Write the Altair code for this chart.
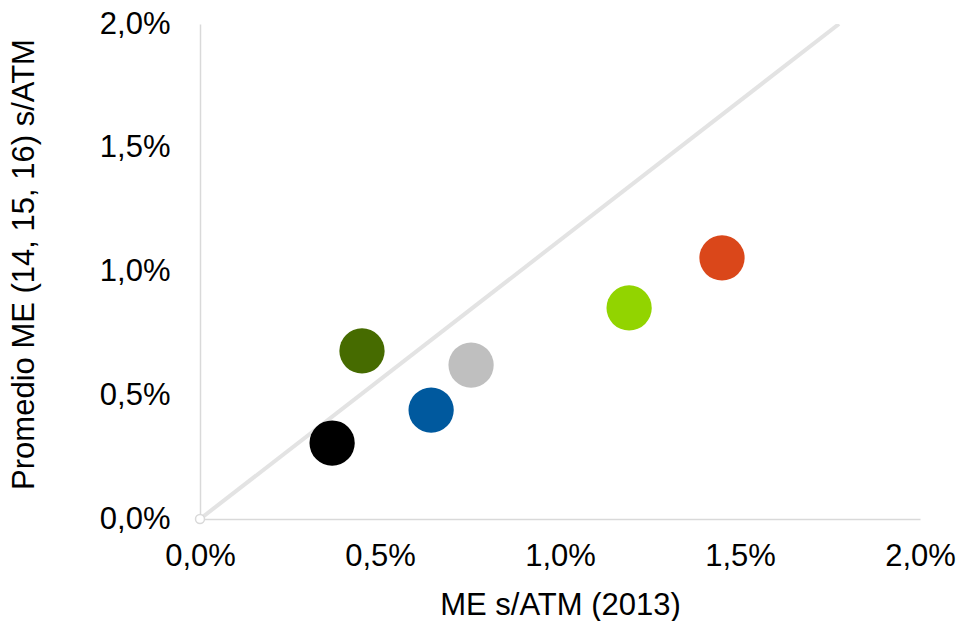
import altair as alt
import pandas as pd

# data (values in %)
me_2013 = [0.367, 0.45, 0.642, 0.753, 1.192, 1.45]
me_avg = [0.307, 0.679, 0.44, 0.622, 0.853, 1.055]
colors = ["#000000", "#466B00", "#00599E", "#BFBFBF", "#92D400", "#DA471A"]
ids = ["A", "B", "C", "D", "E", "F"]

line_x = [0.0, 1.775]
line_y = [0.0, 2.0]

pts = pd.DataFrame({"x": me_2013, "y": me_avg, "id": ids, "c": colors})
ln = pd.DataFrame({"x": line_x, "y": line_y})
origin = pd.DataFrame({"x": [0.0], "y": [0.0]})

lab = "replace(format(datum.value, '.1f'), '.', ',') + '%'"
font = "Liberation Sans"
tc = "#000000"

xs = alt.Scale(domain=[0, 2], nice=False)
ys = alt.Scale(domain=[0, 2], nice=False)

xaxis = alt.Axis(values=[0, 0.5, 1, 1.5, 2], labelExpr=lab, title="ME s/ATM (2013)",
                 grid=False, ticks=False, domainColor="#D9D9D9", domainWidth=1.5,
                 labelFontSize=31, labelFont=font, labelColor=tc, labelPadding=22,
                 labelFlush=False, labelOverlap=False,
                 titleFontSize=31, titleFont=font, titleFontWeight="normal", titleColor=tc,
                 titleBaseline="middle", titleY=86)
yaxis = alt.Axis(values=[0, 0.5, 1, 1.5, 2], labelExpr=lab, title="Promedio ME (14, 15, 16) s/ATM",
                 grid=False, ticks=False, domainColor="#D9D9D9", domainWidth=1.5,
                 labelFontSize=31, labelFont=font, labelColor=tc, labelPadding=30,
                 labelFlush=False, labelOverlap=False,
                 titleFontSize=31, titleFont=font, titleFontWeight="normal", titleColor=tc,
                 titleBaseline="middle", titleX=-176, titleY=240)

line = alt.Chart(ln).mark_line(color="#E3E3E3", strokeWidth=4, clip=True).encode(
    x=alt.X("x:Q", scale=xs, axis=xaxis),
    y=alt.Y("y:Q", scale=ys, axis=yaxis),
)
orig = alt.Chart(origin).mark_point(shape="circle", size=80, filled=True, fill="white",
                                    stroke="#D9D9D9", strokeWidth=1.5, opacity=1).encode(
    x=alt.X("x:Q", scale=xs), y=alt.Y("y:Q", scale=ys)
)
points = alt.Chart(pts).mark_circle(size=2050, opacity=1).encode(
    x=alt.X("x:Q", scale=xs),
    y=alt.Y("y:Q", scale=ys),
    color=alt.Color("c:N", scale=None, legend=None),
)

chart = alt.layer(line, orig, points).properties(
    width=720, height=495,
    padding={"left": 200, "top": 24, "right": 44, "bottom": 102},
    autosize=alt.AutoSizeParams(type="none"),
    background="white",
).configure_view(stroke=None)

chart.save("out.html", embed_options={"renderer": "svg", "actions": False})
